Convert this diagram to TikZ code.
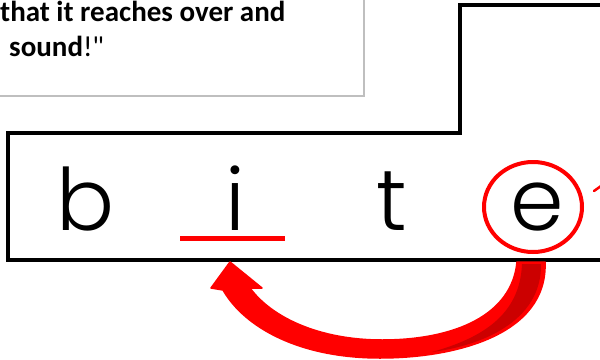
\documentclass[tikz,border=0pt]{standalone}
\usepackage{fontspec}
\usetikzlibrary{shapes.geometric}
\setmainfont{Carlito}[Ligatures=TeXOff]
\newfontfamily\geo{Poppins Light}
\definecolor{boxgrey}{HTML}{BFBFBF}
\definecolor{arrred}{HTML}{FF0000}
\definecolor{deepred}{HTML}{CC0000}
\begin{document}
\begin{tikzpicture}[x=1pt,y=-1pt,
  letter/.style={font=\geo\fontsize{86}{90}\selectfont, anchor=base, inner sep=0pt},
  quote/.style={font=\bfseries\fontsize{29}{35}\selectfont, anchor=base west, inner sep=0pt},
  frame/.style={line width=3.5pt, line join=miter}]
\useasboundingbox (0,0) rectangle (600,359);
% grey quote box
\draw[boxgrey, line width=2pt] (-5,96) -- (364,96) -- (364,-5);
\node[quote] (l1) at (0,21) {that it reaches over and};
\node[quote] (l2) at (9,56) {sound\mdseries!"};
% black frame
\draw[frame] (610,260) -- (8,260) -- (8,133) -- (460,133) -- (460,5) -- (610,5);
% letters
\node[letter] (b) at (86,230) {b};
\node[letter] (i) at (235,230) {i};
\node[letter] (t) at (392,230) {t};
\node[letter] (e) at (537,230) {e};
% marks
\coordinate (ul) at (180,238);
\coordinate (ur) at (285,238);
\draw[arrred, line width=5pt] (ul) -- (ur);
\node[draw=arrred, line width=4pt, ellipse, minimum width=98pt, minimum height=90pt, inner sep=0pt] (ering) at (533,207) {};
\draw[arrred, line width=2.5pt, line cap=round] (594,191) -- (601,186);
% big curved arrow
\fill[arrred, draw=arrred, line width=1.5pt, line join=round]
  (545,262) .. controls (548,335) and (455,358) .. (380,358)
  .. controls (300,358) and (245,328) .. (223,290)
  -- (211,288) -- (230,262) -- (262,288) -- (250,288)
  .. controls (272,318) and (320,340) .. (382,340)
  .. controls (455,340) and (512,315) .. (517,262) -- cycle;
\fill[deepred]
  (522,264) -- (541,264) .. controls (542,322) and (480,346) .. (432,352)
  .. controls (482,338) and (520,315) .. (522,264) -- cycle;
\end{tikzpicture}
\end{document}
